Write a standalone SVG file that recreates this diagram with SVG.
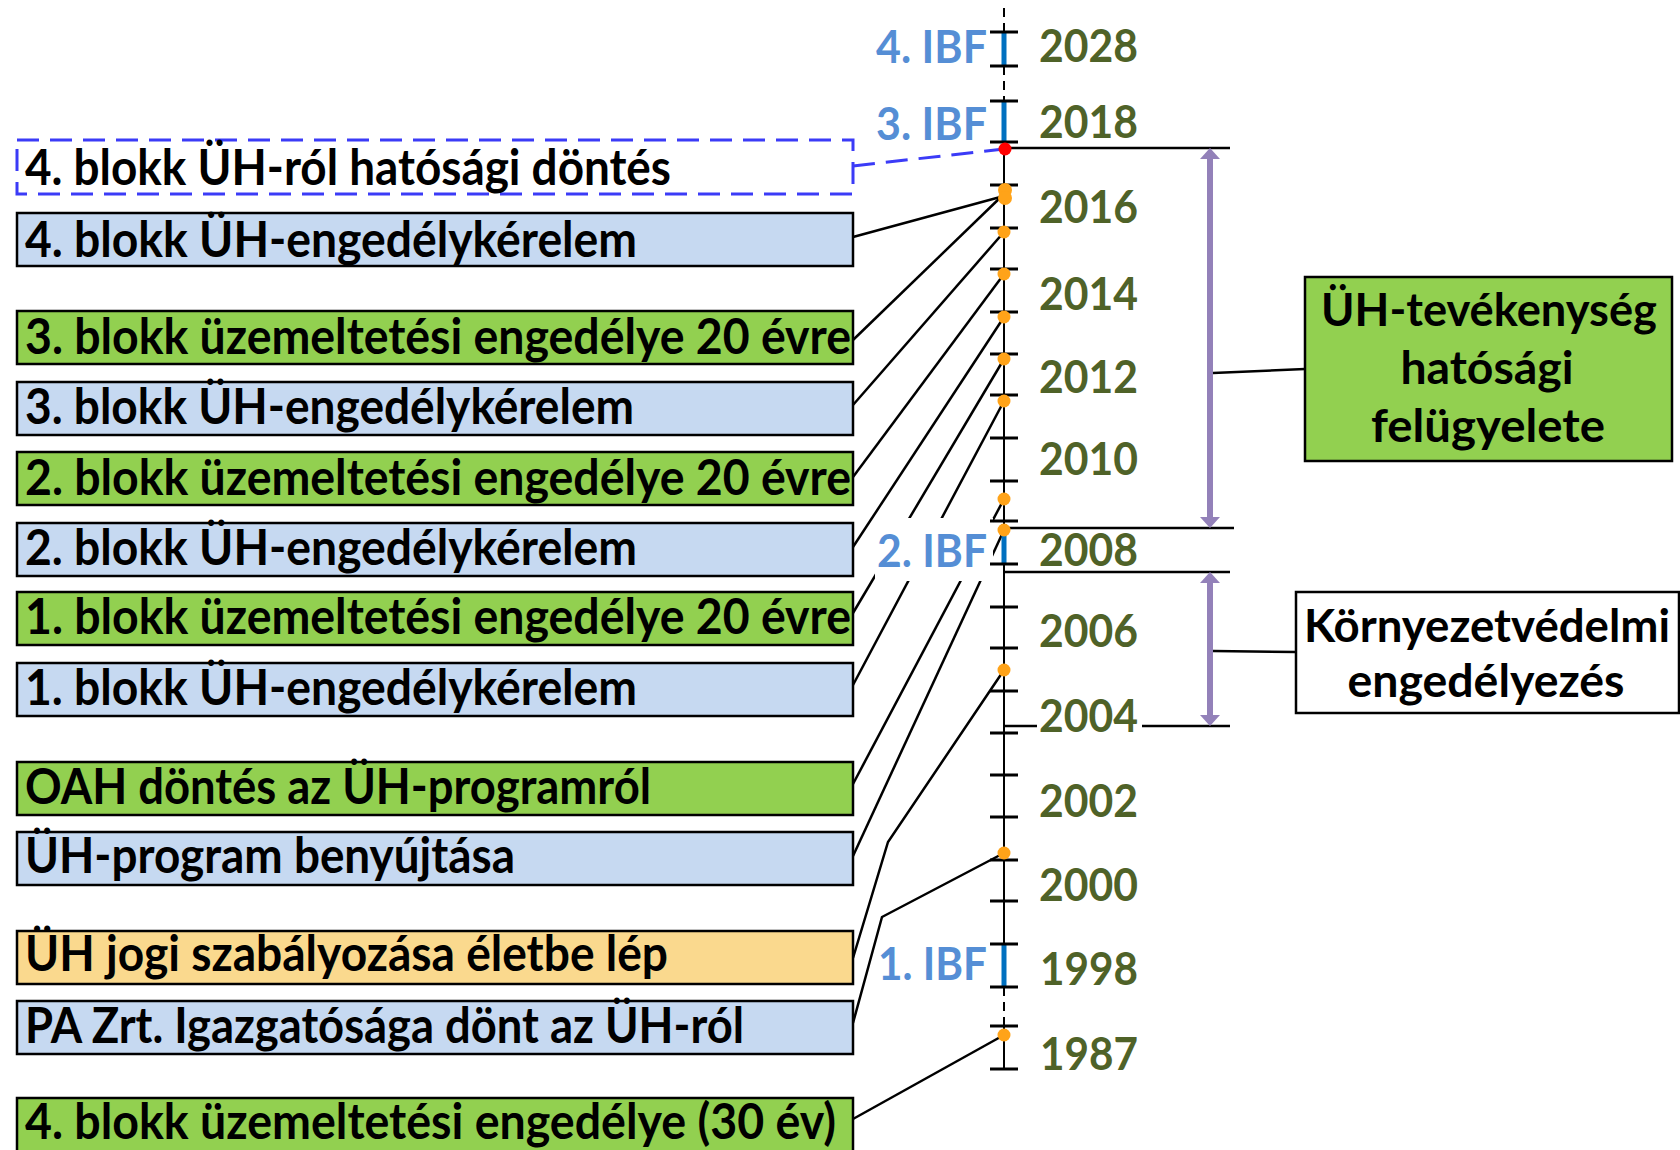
<svg xmlns="http://www.w3.org/2000/svg" width="1680" height="1150" viewBox="0 0 1680 1150">
<defs>
<style>
.box{stroke:#000;stroke-width:2.5}
.g{fill:#92D050}
.b{fill:#C6D9F1}
.yl{fill:#FAD98E}
.w{fill:#FFFFFF}
.t{font-family:Lato,'Liberation Sans',sans-serif;font-weight:700;font-size:49px;fill:#000}
.tr{font-family:Lato,'Liberation Sans',sans-serif;font-weight:700;font-size:45px;fill:#000}
.yr{font-family:Lato,'Liberation Sans',sans-serif;font-weight:700;font-size:45px;fill:#4F6228}
.ibf{font-family:Lato,'Liberation Sans',sans-serif;font-weight:700;font-size:45px;fill:#558ED5}
.c{stroke:#000;stroke-width:2.5;fill:none}
.dc{stroke:#3B3BF7;stroke-width:3;fill:none;stroke-dasharray:22 11}
.ax{stroke:#000;stroke-width:2;fill:none}
.axd{stroke:#000;stroke-width:2;fill:none;stroke-dasharray:9 6}
.tick{stroke:#000;stroke-width:3;fill:none}
.dot{fill:#FFA319}
.seg{stroke:#0070C0;stroke-width:5}
.arr{stroke:#9381B9;stroke-width:6;fill:none}
</style>
<marker id="ah" markerUnits="userSpaceOnUse" viewBox="0 0 11 20" markerWidth="11" markerHeight="20" refX="1" refY="10" orient="auto-start-reverse">
<path d="M0,0 L11,10 L0,20 Z" fill="#9381B9"/>
</marker>
</defs>
<rect x="0" y="0" width="1680" height="1150" fill="#FFFFFF"/>

<g id="connectors">
<path class="dc" d="M853,166 L1004,149"/>
<path class="c" d="M853,237 L1004,196"/>
<path class="c" d="M853,340 L1004,194"/>
<path class="c" d="M853,405 L1004,232"/>
<path class="c" d="M853,477 L1004,274"/>
<path class="c" d="M853,547 L1004,317"/>
<path class="c" d="M853,613 L1004,359"/>
<path class="c" d="M853,685 L1004,401"/>
<path class="c" d="M853,784 L1004,499"/>
<path class="c" d="M853,856 L1004,530"/>
<path class="c" d="M853,958 L888,842 L1004,670"/>
<path class="c" d="M853,1023 L882,917 L1004,853"/>
<path class="c" d="M853,1119 L1004,1035"/>
<path class="c" d="M1005,148 H1230"/>
<path class="c" d="M1005,528 H1234"/>
<path class="c" d="M1005,572 H1230"/>
<path class="c" d="M1005,726 H1037 M1142,726 H1230"/>
<path class="arr" d="M1210,158 V518" marker-start="url(#ah)" marker-end="url(#ah)"/>
<path class="arr" d="M1210,582 V716" marker-start="url(#ah)" marker-end="url(#ah)"/>
<path class="c" d="M1213,373 L1305,369"/>
<path class="c" d="M1213,651 L1296,652"/>
</g>

<g id="n1"><rect x="17" y="140" width="836" height="54" fill="none" class="dc"/><text class="t" x="25" y="185" textLength="646" lengthAdjust="spacingAndGlyphs">4. blokk ÜH-ról hatósági döntés</text></g>
<g id="n2"><rect class="box b" x="17" y="213" width="836" height="53"/><text class="t" x="25" y="257" textLength="612" lengthAdjust="spacingAndGlyphs">4. blokk ÜH-engedélykérelem</text></g>
<g id="n3"><rect class="box g" x="17" y="311" width="836" height="53"/><text class="t" x="25" y="354" textLength="826" lengthAdjust="spacingAndGlyphs">3. blokk üzemeltetési engedélye 20 évre</text></g>
<g id="n4"><rect class="box b" x="17" y="382" width="836" height="53"/><text class="t" x="25" y="424" textLength="609" lengthAdjust="spacingAndGlyphs">3. blokk ÜH-engedélykérelem</text></g>
<g id="n5"><rect class="box g" x="17" y="452" width="836" height="53"/><text class="t" x="25" y="495" textLength="826" lengthAdjust="spacingAndGlyphs">2. blokk üzemeltetési engedélye 20 évre</text></g>
<g id="n6"><rect class="box b" x="17" y="523" width="836" height="53"/><text class="t" x="25" y="565" textLength="612" lengthAdjust="spacingAndGlyphs">2. blokk ÜH-engedélykérelem</text></g>
<g id="n7"><rect class="box g" x="17" y="592" width="836" height="53"/><text class="t" x="25" y="634" textLength="826" lengthAdjust="spacingAndGlyphs">1. blokk üzemeltetési engedélye 20 évre</text></g>
<g id="n8"><rect class="box b" x="17" y="663" width="836" height="53"/><text class="t" x="25" y="705" textLength="612" lengthAdjust="spacingAndGlyphs">1. blokk ÜH-engedélykérelem</text></g>
<g id="n9"><rect class="box g" x="17" y="762" width="836" height="53"/><text class="t" x="25" y="804" textLength="626" lengthAdjust="spacingAndGlyphs">OAH döntés az ÜH-programról</text></g>
<g id="n10"><rect class="box b" x="17" y="832" width="836" height="53"/><text class="t" x="25" y="873" textLength="490" lengthAdjust="spacingAndGlyphs">ÜH-program benyújtása</text></g>
<g id="n11"><rect class="box yl" x="17" y="931" width="836" height="53"/><text class="t" x="25" y="971" textLength="643" lengthAdjust="spacingAndGlyphs">ÜH jogi szabályozása életbe lép</text></g>
<g id="n12"><rect class="box b" x="17" y="1001" width="836" height="53"/><text class="t" x="25" y="1043" textLength="719" lengthAdjust="spacingAndGlyphs">PA Zrt. Igazgatósága dönt az ÜH-ról</text></g>
<g id="n13"><rect class="box g" x="17" y="1098" width="836" height="62"/><text class="t" x="25" y="1139" textLength="811" lengthAdjust="spacingAndGlyphs">4. blokk üzemeltetési engedélye (30 év)</text></g>

<g id="ibf2-bg"><rect class="w" x="875" y="518" width="118" height="63"/></g>

<g id="axis">
<path class="axd" d="M1004,8 V32 M1004,66 V101 M1004,987 V1026"/>
<path class="ax" d="M1004,142 V987 M1004,1026 V1069"/>
<path class="seg" d="M1004,32 V66 M1004,101 V142 M1004,524 V563 M1004,944 V987"/>
<path class="tick" d="M990,32H1018 M990,66H1018 M990,101H1018 M990,142H1018 M990,185H1018 M990,228H1018 M990,269H1018 M990,312H1018 M990,354H1018 M990,395H1018 M990,438H1018 M990,481H1018 M990,521H1018 M990,564H1018 M990,607H1018 M990,648H1018 M990,691H1018 M990,733H1018 M990,775H1018 M990,817H1018 M990,860H1018 M990,901H1018 M990,944H1018 M990,987H1018 M990,1026H1018 M990,1069H1018"/>
<circle cx="1005" cy="149" r="6.5" fill="#FF0000"/>
<circle class="dot" cx="1005" cy="190" r="7"/>
<circle class="dot" cx="1005" cy="198" r="7"/>
<circle class="dot" cx="1004" cy="232" r="6.5"/>
<circle class="dot" cx="1004" cy="274" r="6.5"/>
<circle class="dot" cx="1004" cy="317" r="6.5"/>
<circle class="dot" cx="1004" cy="359" r="6.5"/>
<circle class="dot" cx="1004" cy="401" r="6.5"/>
<circle class="dot" cx="1004" cy="499" r="6.5"/>
<circle class="dot" cx="1004" cy="530" r="6.5"/>
<circle class="dot" cx="1004" cy="670" r="6.5"/>
<circle class="dot" cx="1004" cy="853" r="6.5"/>
<circle class="dot" cx="1004" cy="1035" r="6.5"/>
</g>

<g id="ibf-labels">
<text class="ibf" x="876" y="63" textLength="111" lengthAdjust="spacingAndGlyphs">4. IBF</text>
<text class="ibf" x="876" y="140" textLength="111" lengthAdjust="spacingAndGlyphs">3. IBF</text>
<text class="ibf" x="877" y="567" textLength="110" lengthAdjust="spacingAndGlyphs">2. IBF</text>
<text class="ibf" x="878" y="980" textLength="109" lengthAdjust="spacingAndGlyphs">1. IBF</text>
</g>

<g id="years">
<text class="yr" x="1039" y="62" textLength="99" lengthAdjust="spacingAndGlyphs">2028</text>
<text class="yr" x="1039" y="138" textLength="99" lengthAdjust="spacingAndGlyphs">2018</text>
<text class="yr" x="1039" y="223" textLength="99" lengthAdjust="spacingAndGlyphs">2016</text>
<text class="yr" x="1039" y="310" textLength="99" lengthAdjust="spacingAndGlyphs">2014</text>
<text class="yr" x="1039" y="393" textLength="99" lengthAdjust="spacingAndGlyphs">2012</text>
<text class="yr" x="1039" y="475" textLength="99" lengthAdjust="spacingAndGlyphs">2010</text>
<text class="yr" x="1039" y="566" textLength="99" lengthAdjust="spacingAndGlyphs">2008</text>
<text class="yr" x="1039" y="647" textLength="99" lengthAdjust="spacingAndGlyphs">2006</text>
<text class="yr" x="1039" y="732" textLength="99" lengthAdjust="spacingAndGlyphs">2004</text>
<text class="yr" x="1039" y="817" textLength="99" lengthAdjust="spacingAndGlyphs">2002</text>
<text class="yr" x="1039" y="901" textLength="99" lengthAdjust="spacingAndGlyphs">2000</text>
<text class="yr" x="1040" y="985" textLength="98" lengthAdjust="spacingAndGlyphs">1998</text>
<text class="yr" x="1040" y="1070" textLength="98" lengthAdjust="spacingAndGlyphs">1987</text>
</g>

<g id="n-felugyelet">
<rect class="box g" x="1305" y="277" width="367" height="184"/>
<text class="tr" x="1489" y="326" text-anchor="middle" textLength="336" lengthAdjust="spacingAndGlyphs">ÜH-tevékenység</text>
<text class="tr" x="1487" y="384" text-anchor="middle" textLength="173" lengthAdjust="spacingAndGlyphs">hatósági</text>
<text class="tr" x="1488" y="442" text-anchor="middle" textLength="234" lengthAdjust="spacingAndGlyphs">felügyelete</text>
</g>
<g id="n-kornyezet">
<rect class="box w" x="1296" y="592" width="383" height="121"/>
<text class="tr" x="1487" y="642" text-anchor="middle" textLength="366" lengthAdjust="spacingAndGlyphs">Környezetvédelmi</text>
<text class="tr" x="1486" y="697" text-anchor="middle" textLength="277" lengthAdjust="spacingAndGlyphs">engedélyezés</text>
</g>
</svg>
